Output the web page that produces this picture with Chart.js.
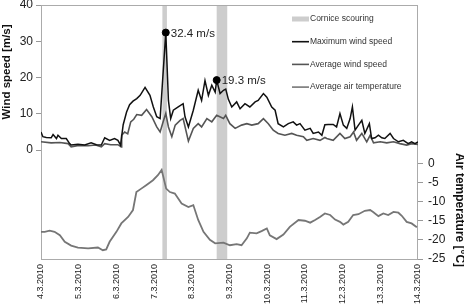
<!DOCTYPE html>
<html>
<head>
<meta charset="utf-8">
<script src="https://cdn.jsdelivr.net/npm/chart.js@4.4.1/dist/chart.umd.min.js"></script>
<style>
    html, body { margin: 0; padding: 0; background: #fff; }
    #wrap { width: 464px; height: 304px; position: relative; }
</style>
</head>
<body>
<div id="wrap"><canvas id="wind-chart"></canvas></div>
<script>
/* Wind speed and air temperature, 4.3.2010 - 14.3.2010, with cornice scouring periods. */

// ---------------------------------------------------------------------------
// Data (x = days since 4.3.2010 00:00)
// ---------------------------------------------------------------------------

const xLabels = ["4.3.2010", "5.3.2010", "6.3.2010", "7.3.2010", "8.3.2010", "9.3.2010",
    "10.3.2010", "11.3.2010", "12.3.2010", "13.3.2010", "14.3.2010"];

const maxWindDays = [0, 0.05, 0.14, 0.27, 0.32, 0.41, 0.45, 0.54, 0.67, 0.76, 0.8, 0.98, 1.16, 1.33,
    1.47, 1.6, 1.69, 1.82, 1.95, 2.04, 2.11, 2.18, 2.27, 2.35, 2.44, 2.54, 2.63, 2.76, 2.89, 2.98,
    3.07, 3.16, 3.22, 3.31, 3.38, 3.44, 3.51, 3.64, 3.77, 3.82, 3.91, 4.04, 4.17, 4.26, 4.35, 4.44,
    4.53, 4.62, 4.66, 4.75, 4.84, 4.9, 4.97, 5.06, 5.19, 5.28, 5.41, 5.54, 5.68, 5.76, 5.9, 5.99,
    6.12, 6.21, 6.29, 6.43, 6.56, 6.69, 6.78, 6.87, 7.0, 7.14, 7.22, 7.36, 7.45, 7.53, 7.62, 7.75,
    7.84, 7.93, 8.02, 8.11, 8.2, 8.26, 8.33, 8.42, 8.51, 8.59, 8.71, 8.77, 8.86, 8.95, 9.04, 9.12,
    9.26, 9.35, 9.48, 9.61, 9.74, 9.83, 9.92, 10.0];
const maxWindValues = [5.0, 3.7, 3.5, 3.4, 4.3, 3.2, 4.1, 3.2, 3.2, 1.8, 1.4, 1.6, 1.4, 2.0,
    1.5, 1.4, 3.4, 2.7, 3.2, 2.7, 1.4, 7.0, 10.5, 12.5, 13.5, 14.2, 15.1, 17.3, 15.1, 11.9,
    9.2, 8.7, 18.3, 32.4, 13.7, 8.7, 11.0, 11.9, 12.8, 9.2, 6.4, 11.0, 16.5, 13.7, 19.2, 15.1,
    17.9, 16.0, 19.3, 15.6, 16.5, 16.8, 14.0, 11.9, 13.3, 11.4, 12.8, 11.9, 13.3, 13.7, 15.6, 14.6,
    11.9, 11.0, 7.3, 6.4, 7.3, 7.8, 6.9, 7.3, 5.5, 6.0, 4.6, 5.0, 4.1, 7.0, 7.1, 7.1,
    6.4, 10.1, 6.9, 6.0, 8.7, 11.9, 5.5, 6.9, 8.2, 4.6, 7.3, 3.2, 3.4, 4.1, 3.4, 3.2,
    4.6, 3.2, 2.3, 2.7, 1.8, 2.3, 1.8, 2.3];

const avgWindDays = [0, 0.27, 0.5, 0.72, 0.8, 1.0, 1.25, 1.45, 1.6, 1.69, 1.85, 2.04, 2.13, 2.14,
    2.22, 2.3, 2.38, 2.46, 2.54, 2.67, 2.8, 2.94, 3.07, 3.16, 3.24, 3.31, 3.38, 3.47, 3.56, 3.69,
    3.77, 3.91, 4.04, 4.17, 4.26, 4.4, 4.53, 4.66, 4.84, 4.9, 5.01, 5.15, 5.32, 5.46, 5.59, 5.76,
    5.9, 6.03, 6.16, 6.29, 6.47, 6.65, 6.78, 6.96, 7.05, 7.22, 7.4, 7.53, 7.58, 7.75, 7.93, 8.06,
    8.2, 8.29, 8.37, 8.51, 8.64, 8.73, 8.82, 9.0, 9.17, 9.35, 9.52, 9.7, 9.83, 10.0];
const avgWindValues = [2.3, 2.0, 2.1, 1.8, 0.9, 1.3, 1.2, 1.4, 0.9, 1.8, 1.5, 1.5, 0.9, 4.1,
    5.0, 4.5, 7.8, 8.5, 9.8, 9.6, 11.2, 9.2, 6.4, 5.0, 7.8, 10.1, 6.4, 3.7, 6.9, 8.2,
    8.7, 2.5, 6.0, 7.3, 6.4, 8.7, 7.8, 9.6, 8.7, 9.6, 7.3, 6.0, 6.9, 7.3, 6.9, 7.3,
    8.7, 7.3, 5.5, 4.6, 4.1, 4.6, 4.1, 3.7, 2.7, 3.2, 2.7, 3.5, 3.2, 2.7, 4.6, 3.2,
    3.7, 5.0, 2.7, 4.6, 2.3, 4.1, 2.0, 2.3, 2.0, 2.3, 1.8, 1.4, 1.8, 1.6];

const tempDays = [0, 0.1, 0.23, 0.36, 0.5, 0.63, 0.8, 0.98, 1.25, 1.51, 1.64, 1.73, 1.82, 2.0,
    2.13, 2.31, 2.44, 2.53, 2.66, 2.79, 2.97, 3.1, 3.2, 3.32, 3.42, 3.55, 3.73, 3.91, 4.04, 4.17,
    4.31, 4.48, 4.62, 4.84, 5.01, 5.19, 5.32, 5.46, 5.54, 5.72, 5.85, 5.99, 6.07, 6.25, 6.43, 6.6,
    6.83, 7.0, 7.14, 7.27, 7.4, 7.53, 7.67, 7.8, 7.93, 8.02, 8.15, 8.28, 8.42, 8.59, 8.73, 8.81,
    8.95, 9.08, 9.21, 9.35, 9.48, 9.57, 9.7, 9.83, 9.97];
const tempValues = [-17.9, -17.9, -17.6, -17.9, -18.8, -20.5, -21.5, -22.0, -22.2, -22.0, -22.7, -22.5, -20.5, -17.9,
    -15.7, -14.0, -12.2, -7.5, -6.6, -5.7, -4.4, -3.1, -1.7, -6.6, -7.5, -7.9, -10.5, -11.4, -10.9, -14.8,
    -17.9, -20.0, -20.9, -20.7, -21.4, -21.1, -21.4, -19.6, -18.1, -18.3, -17.7, -17.0, -18.8, -19.8, -18.6, -16.6,
    -14.8, -15.0, -15.5, -14.8, -14.0, -13.1, -13.5, -14.7, -15.3, -16.0, -15.3, -13.5, -13.3, -12.4, -12.2, -12.7,
    -13.8, -13.1, -13.5, -12.7, -12.9, -13.7, -15.3, -15.7, -16.7];

// cornice scouring periods (start/end in days)
const scouringStart = [3.22, 4.66];
const scouringEnd = [3.34, 4.94];

// labelled peaks of the maximum wind speed
const peakDays = [3.31, 4.66];
const peakValues = [32.4, 19.3];

const legendLabels = ["Cornice scouring", "Maximum wind speed", "Average wind speed", "Average air temperature"];

// ---------------------------------------------------------------------------
// Helpers / plugins
// ---------------------------------------------------------------------------

const FONT = "'Liberation Sans', Arial, sans-serif";
const LINE_COLORS = ["#111111", "#555555", "#767676"];

function toPoints(days, values) {
    return days.map((d, i) => ({ x: d, y: values[i] }));
}

function fixBox(size) {
    return (scale) => {
        if (scale.isHorizontal()) scale.height = size;
        else scale.width = size;
        scale.paddingTop = 0;
        scale.paddingBottom = 0;
        scale.paddingLeft = 0;
        scale.paddingRight = 0;
    };
}

const bandsPlugin = {
    id: "bands",
    beforeDatasetsDraw(chart) {
        const { ctx, chartArea, scales } = chart;
        ctx.save();
        ctx.fillStyle = "#cdcdcd";
        scouringStart.forEach((s, i) => {
            const x0 = scales.x.getPixelForValue(s);
            const x1 = scales.x.getPixelForValue(scouringEnd[i]);
            ctx.fillRect(x0, chartArea.top, x1 - x0, chartArea.bottom - chartArea.top);
        });
        // plot frame
        ctx.strokeStyle = "#ababab";
        ctx.lineWidth = 1;
        ctx.strokeRect(chartArea.left + 0.5, chartArea.top + 0.5,
            chartArea.right - chartArea.left - 1, chartArea.bottom - chartArea.top);
        ctx.restore();
    },
};

const textPlugin = {
    id: "texts",
    afterDatasetsDraw(chart) {
        const { ctx, scales } = chart;
        ctx.save();

        // peak labels
        ctx.fillStyle = "#222";
        ctx.font = "11.5px " + FONT;
        ctx.textAlign = "left";
        ctx.textBaseline = "middle";
        peakDays.forEach((d, i) => {
            const x = scales.x.getPixelForValue(d);
            const y = scales.yWind.getPixelForValue(peakValues[i]);
            ctx.fillText(peakValues[i].toFixed(1) + " m/s", x + 5, y + 1);
        });

        // axis titles
        ctx.font = "bold 11.5px " + FONT;
        ctx.fillStyle = "#111";
        ctx.textAlign = "center";
        ctx.save();
        ctx.translate(7, 72);
        ctx.rotate(-Math.PI / 2);
        ctx.fillText("Wind speed [m/s]", 0, 0);
        ctx.restore();
        ctx.save();
        ctx.font = "bold 12px " + FONT;
        ctx.translate(459, 210);
        ctx.rotate(Math.PI / 2);
        ctx.fillText("Air temperature [°C]", 0, 0);
        ctx.restore();

        // legend
        const lx0 = 292, lx1 = 309, ly0 = 19, dy = 22.7;
        ctx.font = "8.5px " + FONT;
        ctx.textAlign = "left";
        legendLabels.forEach((label, i) => {
            const y = ly0 + i * dy;
            if (i === 0) {
                ctx.fillStyle = "#cdcdcd";
                ctx.fillRect(lx0, y - 2.5, lx1 - lx0, 5);
            } else {
                ctx.strokeStyle = LINE_COLORS[i - 1];
                ctx.lineWidth = 1.6;
                ctx.beginPath();
                ctx.moveTo(lx0, y);
                ctx.lineTo(lx1, y);
                ctx.stroke();
            }
            ctx.fillStyle = "#333";
            ctx.fillText(label, lx1 + 1, y);
        });
        ctx.restore();
    },
};

// ---------------------------------------------------------------------------
// Chart setup
// ---------------------------------------------------------------------------

const ctx = document.getElementById("wind-chart").getContext("2d");
const windChart = new Chart(ctx, {
    type: "line",
    data: {
        datasets: [
            {
                label: "Peaks",
                data: toPoints(peakDays, peakValues),
                yAxisID: "yWind",
                showLine: false,
                pointRadius: 3.5,
                pointBackgroundColor: "#000",
                pointBorderColor: "#000",
                order: 0,
            },
            {
                label: legendLabels[1],
                data: toPoints(maxWindDays, maxWindValues),
                yAxisID: "yWind",
                borderColor: LINE_COLORS[0],
                borderWidth: 1.5,
                pointRadius: 0,
                order: 1,
            },
            {
                label: legendLabels[2],
                data: toPoints(avgWindDays, avgWindValues),
                yAxisID: "yWind",
                borderColor: LINE_COLORS[1],
                borderWidth: 1.6,
                pointRadius: 0,
                order: 2,
            },
            {
                label: legendLabels[3],
                data: toPoints(tempDays, tempValues),
                yAxisID: "yTemp",
                borderColor: LINE_COLORS[2],
                borderWidth: 1.8,
                pointRadius: 0,
                order: 3,
            },
        ],
    },
    options: {
        responsive: true,
        maintainAspectRatio: false,
        animation: false,
        layout: { padding: { top: 4, left: 0, right: 0, bottom: 0 } },
        plugins: {
            legend: { display: false },
            tooltip: { enabled: false },
        },
        scales: {
            x: {
                type: "linear",
                min: 0,
                max: 10,
                afterFit: fixBox(45),
                border: { display: false },
                grid: { display: false, drawTicks: false },
                ticks: {
                    stepSize: 1,
                    autoSkip: false,
                    minRotation: 90,
                    maxRotation: 90,
                    padding: 5,
                    color: "#222",
                    font: { family: FONT, size: 9 },
                    callback: (v) => xLabels[v] || "",
                },
            },
            yWind: {
                position: "left",
                min: -30,
                max: 40,
                afterFit: fixBox(41),
                afterBuildTicks: (scale) => { scale.ticks = scale.ticks.filter((t) => t.value >= 0); },
                border: { display: false },
                grid: { drawOnChartArea: false, drawTicks: true, tickLength: 5, color: "#999" },
                ticks: {
                    stepSize: 10,
                    padding: 3,
                    color: "#222",
                    font: { family: FONT, size: 12 },
                },
            },
            yTemp: {
                position: "right",
                min: -25,
                max: 41.4,
                afterFit: fixBox(46),
                afterBuildTicks: (scale) => { scale.ticks = scale.ticks.filter((t) => t.value <= 0); },
                border: { display: false },
                grid: { drawOnChartArea: false, drawTicks: true, tickLength: 5, color: "#999" },
                ticks: {
                    stepSize: 5,
                    padding: 5,
                    color: "#222",
                    font: { family: FONT, size: 12 },
                },
            },
        },
    },
    plugins: [bandsPlugin, textPlugin],
});
</script>
</body>
</html>
